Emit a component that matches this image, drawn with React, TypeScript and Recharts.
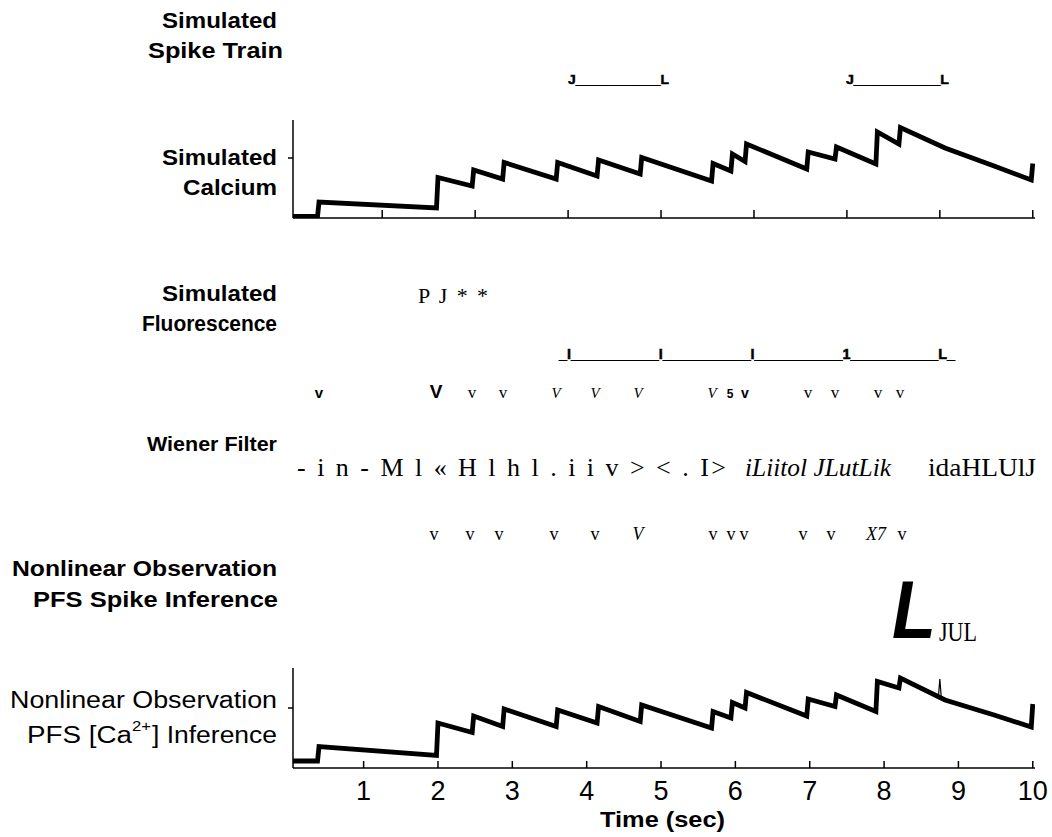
import React from 'react';
import { LineChart, Line, XAxis, YAxis } from 'recharts';

// ---- data ----
const calciumTime = [
  0.05, 0.38, 0.40, 1.98, 2.00, 2.46, 2.48, 2.87, 2.89, 3.59, 3.61, 4.14, 4.16,
  4.72, 4.74, 5.68, 5.70, 5.94, 5.96, 6.13, 6.15, 6.96, 6.98, 7.34, 7.36, 7.89,
  7.91, 8.20, 8.22, 8.82, 9.48, 9.98, 10.0,
];
const simulatedCalcium = [
  1.5, 1.5, 16, 10, 40.5, 32, 48, 39, 55.5, 39, 55.5, 42, 58,
  44, 60.5, 37, 54.5, 47, 64, 56.5, 74, 49, 66, 59, 71, 54,
  86, 74, 90.5, 70, 52, 38, 54.5,
];
const pfsCalcium = [
  7, 7, 21.5, 12.5, 45, 35.5, 52, 41.5, 59, 41.5, 58, 45, 61.5,
  46.5, 63, 40, 56.5, 50, 65.5, 60, 75.5, 52, 69, 61.5, 73, 56.5,
  86.5, 80, 90, 68, 53, 41, 64,
];
// thin stray particle trace visible in the PFS panel
const particleTime = [8.73, 8.75, 8.77];
const particleCalcium = [70, 89, 70];

const topTicks = [1.25, 2.5, 3.75, 5, 6.25, 7.5, 8.75, 10];
const timeTicks = [1, 2, 3, 4, 5, 6, 7, 8, 9, 10];
const levelTicks = [60];

const topData = calciumTime.map((t, i) => ({ t, v: simulatedCalcium[i] }));
const bottomData = calciumTime.map((t, i) => ({ t, v: pfsCalcium[i] }));
const particleData = particleTime.map((t, i) => ({ t, v: particleCalcium[i] }));

const SANS = '"Liberation Sans", Arial, Helvetica, sans-serif';
const SERIF = '"Liberation Serif", "Times New Roman", serif';
const AX = { stroke: '#000', strokeWidth: 1.5 };

const TimeTick = (props: any) => {
  const { x, y, payload } = props;
  return (
    <g>
      <line x1={x} y1={y} x2={x} y2={y - 7} stroke="#000" strokeWidth={1.5} />
      <text x={x} y={y + 32} textAnchor="middle" fontFamily={SANS} fontSize={27} fill="#000">
        {payload.value}
      </text>
    </g>
  );
};
const UpTick = (props: any) => {
  const { x, y } = props;
  return <line x1={x} y1={y} x2={x} y2={y - 8} stroke="#000" strokeWidth={1.5} />;
};
const LeftTick = (props: any) => {
  const { x, y } = props;
  return <line x1={x - 5} y1={y} x2={x} y2={y} stroke="#000" strokeWidth={1.5} />;
};

type TProps = {
  x: number; y: number; size: number; children: React.ReactNode;
  weight?: number; italic?: boolean; family?: string; tl?: number;
  adjust?: string; anchor?: string; thick?: number;
};
const T = ({ x, y, size, children, weight = 400, italic = false, family = SANS, tl, adjust = 'spacingAndGlyphs', anchor = 'start', thick = 0 }: TProps) => (
  <text
    x={x} y={y} fontSize={size} fontWeight={weight} fontStyle={italic ? 'italic' : 'normal'}
    fontFamily={family} textLength={tl} lengthAdjust={tl ? (adjust as any) : undefined}
    textAnchor={anchor as any} fill="#000" stroke={thick ? '#000' : undefined} strokeWidth={thick || undefined}
  >
    {children}
  </text>
);

const row1 = [
  { x: 319, ch: 'v', f: SANS, w: 700, s: 15, i: false },
  { x: 436, ch: 'V', f: SANS, w: 700, s: 19, i: false },
  { x: 472, ch: 'v', f: SERIF, w: 400, s: 17, i: false },
  { x: 503, ch: 'v', f: SERIF, w: 400, s: 17, i: false },
  { x: 556, ch: 'V', f: SERIF, w: 400, s: 15, i: true },
  { x: 595, ch: 'V', f: SERIF, w: 400, s: 15, i: true },
  { x: 638, ch: 'V', f: SERIF, w: 400, s: 15, i: true },
  { x: 712, ch: 'V', f: SERIF, w: 400, s: 15, i: true },
  { x: 730, ch: '5', f: SANS, w: 700, s: 12, i: false },
  { x: 745, ch: 'v', f: SANS, w: 700, s: 14, i: false },
  { x: 808, ch: 'v', f: SERIF, w: 400, s: 17, i: false },
  { x: 835, ch: 'v', f: SERIF, w: 400, s: 17, i: false },
  { x: 878, ch: 'v', f: SERIF, w: 400, s: 17, i: false },
  { x: 900, ch: 'v', f: SERIF, w: 400, s: 17, i: false },
];
const row2 = [
  { x: 434, ch: 'v', i: false }, { x: 470, ch: 'v', i: false }, { x: 499, ch: 'v', i: false },
  { x: 554, ch: 'v', i: false }, { x: 595, ch: 'v', i: false }, { x: 638, ch: 'V', i: true },
  { x: 713, ch: 'v', i: false }, { x: 731, ch: 'v', i: false }, { x: 744, ch: 'v', i: false },
  { x: 803, ch: 'v', i: false }, { x: 831, ch: 'v', i: false }, { x: 876, ch: 'X7', i: true },
  { x: 902, ch: 'v', i: false },
];

export default function App() {
  return (
    <div style={{ position: 'absolute', left: 0, top: 0, width: 1052, height: 837, background: '#fff' }}>
      <div style={{ position: 'absolute', left: 0, top: 0 }}>
        <LineChart width={1052} height={837} data={bottomData} margin={{ top: 668, right: 17, bottom: 29, left: 283 }}>
          <XAxis dataKey="t" type="number" domain={[0.05, 10.03]} ticks={timeTicks} height={40}
            tickSize={0} tickMargin={0} tickLine={false} axisLine={AX} tick={<TimeTick />} allowDataOverflow />
          <YAxis type="number" domain={[0, 100]} ticks={levelTicks} width={10} tickSize={0} tickMargin={0}
            tick={<LeftTick />} tickLine={false} axisLine={AX} allowDataOverflow />
          <Line data={particleData} dataKey="v" type="linear" stroke="#000" strokeWidth={1.2} dot={false} isAnimationActive={false} />
          <Line dataKey="v" type="linear" stroke="#000" strokeWidth={4.8} dot={false} isAnimationActive={false} />
        </LineChart>
      </div>
      <div style={{ position: 'absolute', left: 0, top: 0 }}>
        <LineChart width={1052} height={240} data={topData} margin={{ top: 120, right: 17, bottom: 21, left: 283 }}>
          <XAxis dataKey="t" type="number" domain={[0.05, 10.03]} ticks={topTicks} height={1}
            tickSize={0} tickMargin={0} tickLine={false} tick={<UpTick />} axisLine={AX} allowDataOverflow />
          <YAxis type="number" domain={[0, 98]} ticks={levelTicks} width={10} tickSize={0} tickMargin={0}
            tick={<LeftTick />} tickLine={false} axisLine={AX} allowDataOverflow />
          <Line dataKey="v" type="linear" stroke="#000" strokeWidth={4.8} dot={false} isAnimationActive={false} />
        </LineChart>
      </div>
      <svg width={1052} height={837} style={{ position: 'absolute', left: 0, top: 0, pointerEvents: 'none' }}>
        {/* row labels */}
        <T x={162} y={28} size={22} weight={700} tl={115}>Simulated</T>
        <T x={148} y={58} size={22} weight={700} tl={135}>Spike Train</T>
        <T x={162} y={165} size={22} weight={700} tl={115}>Simulated</T>
        <T x={183} y={195} size={22} weight={700} tl={94}>Calcium</T>
        <T x={162} y={301} size={22} weight={700} tl={115}>Simulated</T>
        <T x={142} y={331} size={22} weight={700} tl={135}>Fluorescence</T>
        <T x={147} y={451} size={20} weight={700} tl={130}>Wiener Filter</T>
        <T x={12} y={576} size={22} weight={700} tl={265}>Nonlinear Observation</T>
        <T x={33} y={607} size={22} weight={700} tl={245}>PFS Spike Inference</T>
        <T x={10} y={708} size={23} tl={267}>Nonlinear Observation</T>
        <T x={27} y={743} size={23} tl={105}>PFS [Ca</T>
        <T x={132} y={731} size={15} tl={19}>2+</T>
        <T x={152} y={743} size={23} tl={125}>] Inference</T>
        <T x={600} y={827} size={22} weight={700} tl={125}>Time (sec)</T>

        {/* spike train row */}
        <T x={568} y={84} size={13} weight={700} tl={101} thick={0.5}>J___________L</T>
        <T x={846} y={84} size={13} weight={700} tl={103} thick={0.5}>J___________L</T>

        {/* fluorescence rows */}
        <T x={418} y={303} size={22} family={SERIF} tl={70} adjust="spacing">P J * *</T>
        <T x={559} y={359} size={14} weight={700} tl={396} thick={0.5}>_I___________I___________I___________1___________L_</T>
        {row1.map((g, k) => (
          <T key={'r1' + k} x={g.x} y={398} size={g.s} weight={g.w} family={g.f} italic={g.i} anchor="middle">{g.ch}</T>
        ))}

        {/* wiener filter row */}
        <T x={297} y={476} size={26} family={SERIF} tl={429} adjust="spacing">- i n - M l « H l h l . i i v &gt; &lt; . I&gt;</T>
        <T x={745} y={476} size={26} family={SERIF} italic tl={146}>iLiitol JLutLik</T>
        <T x={928} y={476} size={26} family={SERIF} tl={108}>idaHLUlJ</T>
        {row2.map((g, k) => (
          <T key={'r2' + k} x={g.x} y={540} size={18} family={SERIF} italic={g.i} anchor="middle">{g.ch}</T>
        ))}

        {/* spike inference row */}
        <T x={892} y={638} size={82} weight={900} italic tl={44}>L</T>
        <T x={939} y={641} size={28} family={SERIF} tl={38}>JUL</T>
      </svg>
    </div>
  );
}
